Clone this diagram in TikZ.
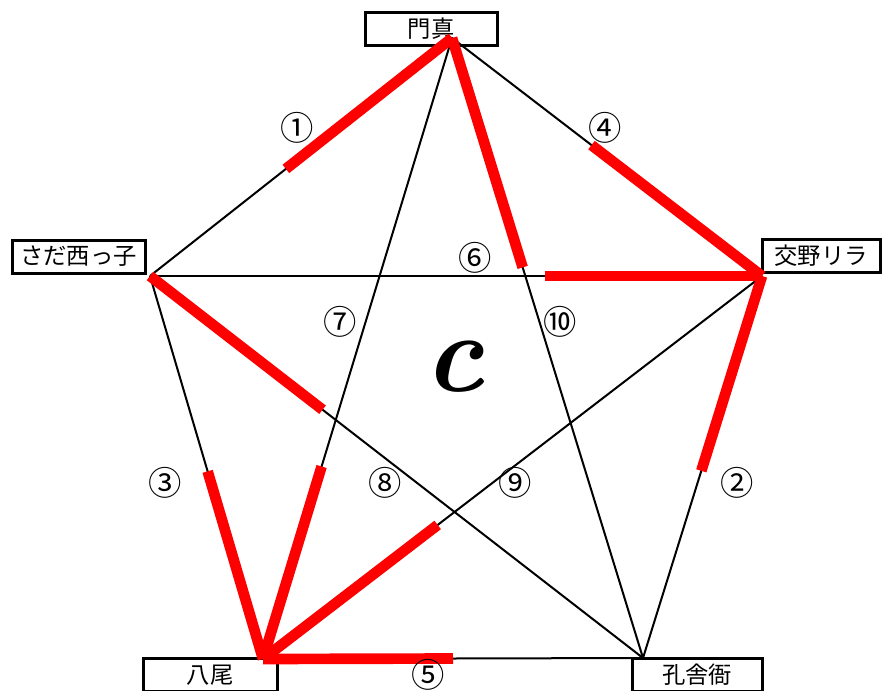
\documentclass[tikz,border=0pt]{standalone}
\usepackage{fontspec}
\newfontfamily\jpfont{Noto Sans CJK JP}
\usetikzlibrary{calc}
\tikzset{
  namebox/.style={draw, line width=2.25pt, fill=white, inner sep=0pt,
                  minimum height=24.75pt,
                  font=\jpfont\fontsize{17.5}{20}\selectfont},
  edge/.style={line width=1.5pt},
  win/.style={red, line width=8pt},
  num/.style={font=\jpfont\fontsize{25}{28}\selectfont},
}

\begin{document}
\begin{tikzpicture}[x=0.75pt, y=-0.75pt]
  \useasboundingbox (0,0) rectangle (890,690);
  % name boxes
  \node[namebox, minimum width=99pt]    (kadomabox) at (431,28.5)  {門真};
  \node[namebox, minimum width=99.75pt] (sadabox)   at (78.5,256.5) {さだ西っ子};
  \node[namebox, minimum width=88.5pt]  (katanobox) at (821,256)   {交野リラ};
  \node[namebox, minimum width=100.5pt] (yaobox)    at (210,675)   {八尾};
  \node[namebox, minimum width=97.5pt]  (kusakabox) at (697,675)   {孔舎衙};
  % vertices
  \coordinate (kadoma) at (452,38);
  \coordinate (sada)   at (150,276);
  \coordinate (katano) at (762,276);
  \coordinate (yao)    at (263,659);
  \coordinate (kusaka) at (643,658);
  % all ten games
  \foreach \a/\b in {kadoma/sada, kadoma/katano, kadoma/yao, kadoma/kusaka,
                     sada/katano, sada/yao, sada/kusaka,
                     katano/yao, katano/kusaka, yao/kusaka}
    \draw[edge] (\a) -- (\b);
  % winners
  \foreach \a/\b/\f in {kadoma/sada/0.55, kadoma/kusaka/0.37,
                        katano/kadoma/0.55, katano/sada/0.355, katano/kusaka/0.51,
                        sada/kusaka/0.35,
                        yao/sada/0.49, yao/kadoma/0.31, yao/katano/0.35, yao/kusaka/0.5}
    \draw[win] (\a) -- ($(\a)!\f!(\b)$);
  % game numbers
  \node[num] (g1)  at (297,128) {①};
  \node[num] (g2)  at (737,483) {②};
  \node[num] (g3)  at (165,483) {③};
  \node[num] (g4)  at (605,128) {④};
  \node[num] (g5)  at (428,675) {⑤};
  \node[num] (g6)  at (475,258) {⑥};
  \node[num] (g7)  at (340,322) {⑦};
  \node[num] (g8)  at (385,483) {⑧};
  \node[num] (g9)  at (515,483) {⑨};
  \node[num] (g10) at (560,322) {⑩};
  \node[font=\bfseries\itshape\fontsize{84}{86}\selectfont] (block) at (454,367) {c};
\end{tikzpicture}
\end{document}
